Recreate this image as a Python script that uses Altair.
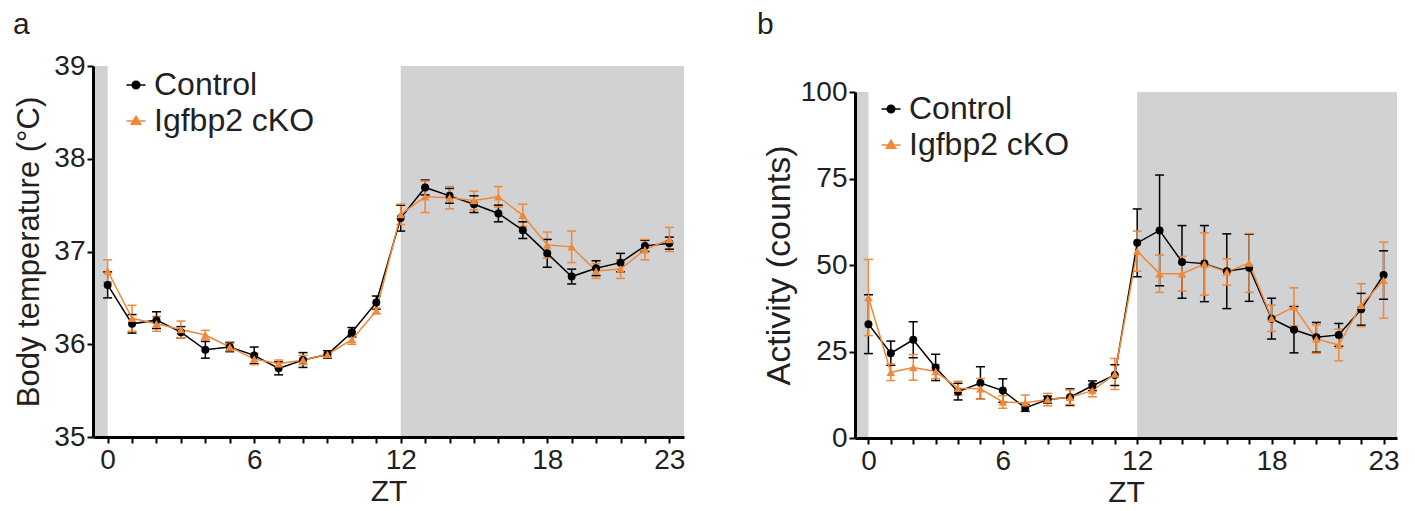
import altair as alt
import pandas as pd
import math

# ---------------- data ----------------
zt = list(range(24))
groups = ["Control", "Igfbp2 cKO"]

temp_ctrl = [36.64, 36.22, 36.26, 36.13, 35.94, 35.97, 35.88, 35.74, 35.83, 35.89, 36.13, 36.45,
             37.36, 37.69, 37.60, 37.51, 37.41, 37.23, 36.98, 36.73, 36.82, 36.88, 37.06, 37.09]
temp_ctrl_err = [0.14, 0.10, 0.09, 0.06, 0.09, 0.05, 0.09, 0.07, 0.08, 0.04, 0.05, 0.07,
                 0.14, 0.08, 0.08, 0.09, 0.09, 0.09, 0.15, 0.08, 0.08, 0.10, 0.06, 0.065]
temp_ko = [36.79, 36.28, 36.22, 36.16, 36.10, 35.97, 35.84, 35.79, 35.83, 35.89, 36.05, 36.36,
           37.40, 37.59, 37.58, 37.55, 37.59, 37.39, 37.07, 37.05, 36.79, 36.81, 37.02, 37.13]
temp_ko_err = [0.12, 0.14, 0.08, 0.09, 0.05, 0.04, 0.06, 0.04, 0.05, 0.03, 0.05, 0.03,
               0.11, 0.17, 0.12, 0.10, 0.11, 0.12, 0.14, 0.17, 0.08, 0.10, 0.11, 0.13]

act_ctrl = [32.9, 24.5, 28.4, 20.4, 13.4, 15.9, 13.7, 8.7, 11.1, 11.8, 15.1, 18.2,
            56.4, 60.0, 50.9, 50.4, 48.2, 49.2, 34.5, 31.3, 29.1, 29.8, 37.2, 47.1]
act_ctrl_err = [8.5, 3.5, 5.2, 3.8, 2.4, 4.7, 3.4, 1.0, 1.0, 2.4, 1.4, 3.0,
                9.8, 16.0, 10.5, 11.0, 10.8, 9.7, 5.9, 6.7, 4.3, 3.3, 4.6, 7.0]
act_ko = [40.6, 19.0, 20.4, 19.2, 14.4, 14.2, 10.4, 10.2, 11.1, 11.8, 13.7, 18.5,
          54.0, 47.5, 47.5, 50.3, 48.0, 50.6, 34.6, 37.9, 28.6, 26.9, 38.4, 45.6]
act_ko_err = [11.0, 2.4, 3.7, 2.0, 2.0, 3.0, 1.8, 2.2, 1.8, 2.1, 1.8, 4.5,
              5.8, 5.4, 5.0, 9.0, 3.8, 8.5, 3.8, 5.5, 4.1, 4.6, 6.2, 11.0]

# dark phases (ZT)
dark_start = [-0.6, 12]
dark_end = [0, 23.6]
x_domain = [-0.6, 23.6]
x_label_values = [0, 6, 12, 18, 23]
temp_ticks = [35, 36, 37, 38, 39]
act_ticks = [0, 25, 50, 75, 100]

# ---------------- style ----------------
COLORS = ["#000000", "#F0883A"]
SHADE = "#D1D2D4"
TEXT = "#231f20"
FONT = "Liberation Sans, Arial, sans-serif"
NARROW = "Liberation Sans Narrow, Arial Narrow, Liberation Sans, sans-serif"

# legend glyphs: short line with a marker on it (unit square -1..1)
_r = 0.4
_circle = "M" + "L".join(
    f"{_r * math.cos(2 * math.pi * k / 16):.3f},{_r * math.sin(2 * math.pi * k / 16):.3f}"
    for k in range(16)) + "Z"
legend_paths = [
    "M-1,0L1,0" + _circle,
    "M-1,0L1,0M0,-0.5L0.5,0.35L-0.5,0.35Z",
]

IND = dict(color="independent", fill="independent", stroke="independent", shape="independent")


def long_df(ctrl, ctrl_err, ko, ko_err):
    rows = []
    for g, vals, errs in [(groups[0], ctrl, ctrl_err), (groups[1], ko, ko_err)]:
        for t, v, e in zip(zt, vals, errs):
            rows.append({"zt": t, "group": g, "mean": v, "lo": v - e, "hi": v + e})
    return pd.DataFrame(rows)


def panel(df, y_title, y_domain, y_ticks, width, height, leg_x, leg_y, ytitle_size,
          ytitle_pad):
    shade_df = pd.DataFrame({"start": dark_start, "end": dark_end,
                             "bottom": [y_domain[0]] * 2, "top": [y_domain[1]] * 2})
    label_test = "[" + ",".join(str(v) for v in x_label_values) + "]"
    xscale = alt.Scale(domain=x_domain, nice=False, zero=False)
    xaxis = alt.Axis(title="ZT", values=zt, labelFlush=False, ticks=True, zindex=1,
                     tickColor="black", tickWidth=2, tickSize=6,
                     labelExpr=f"indexof({label_test}, datum.value) >= 0 ? datum.label : ''",
                     labelFont=NARROW, titleFont=NARROW, labelPadding=3, titlePadding=2,
                     titleFontSize=30)
    yscale = alt.Scale(domain=y_domain, nice=False, zero=False)
    yaxis = alt.Axis(title=y_title, values=y_ticks, titleFontSize=ytitle_size, zindex=1,
                     titlePadding=ytitle_pad, labelPadding=2)
    # colour scale: domain taken from the data (sorted: Control, Igfbp2 cKO)
    color = alt.Color("group:N", scale=alt.Scale(range=COLORS), legend=None)
    x = alt.X("zt:Q", scale=xscale, axis=xaxis)
    ymean = alt.Y("mean:Q", scale=yscale, axis=yaxis)

    shade = alt.Chart(shade_df).mark_rect(color=SHADE).encode(
        x=alt.X("start:Q", scale=xscale, axis=xaxis),
        x2="end:Q",
        y=alt.Y("bottom:Q", scale=yscale, axis=yaxis),
        y2="top:Q",
    )
    base = alt.Chart(df)
    rules = base.mark_rule(strokeWidth=1.5).encode(
        x=x, y=alt.Y("lo:Q", scale=yscale, axis=yaxis), y2="hi:Q", color=color)
    tick_lo = base.mark_tick(orient="horizontal", size=9, thickness=1.5, opacity=1).encode(
        x=x, y=alt.Y("lo:Q", scale=yscale, axis=yaxis), color=color)
    tick_hi = base.mark_tick(orient="horizontal", size=9, thickness=1.5, opacity=1).encode(
        x=x, y=alt.Y("hi:Q", scale=yscale, axis=yaxis), color=color)
    line = base.mark_line(strokeWidth=1.5).encode(
        x=x, y=ymean, color=color, detail="group:N")
    pts_c = base.transform_filter(alt.datum.group == groups[0]).mark_point(
        filled=True, shape="circle", size=64, opacity=1).encode(x=x, y=ymean, color=color)
    pts_k = base.transform_filter(alt.datum.group == groups[1]).mark_point(
        filled=True, shape="triangle-up", size=75, opacity=1).encode(x=x, y=ymean, color=color)

    leg = alt.Legend(title=None, orient="none", legendX=leg_x, legendY=leg_y,
                     labelFontSize=32, labelFont=FONT, labelColor=TEXT, labelLimit=500,
                     symbolSize=361, symbolStrokeWidth=1.5, symbolOpacity=1,
                     labelOffset=2, rowPadding=4, padding=0)
    # invisible layer that only carries the legend (line + marker glyphs)
    key = base.mark_point(filled=True, opacity=0).encode(
        x=x, y=ymean,
        shape=alt.Shape("group:N", scale=alt.Scale(domain=groups, range=legend_paths), legend=leg),
        fill=alt.Fill("group:N", scale=alt.Scale(domain=groups, range=COLORS), legend=leg),
        stroke=alt.Stroke("group:N", scale=alt.Scale(domain=groups, range=COLORS), legend=leg),
    )

    return alt.layer(shade, rules, tick_lo, tick_hi, line, pts_c, pts_k, key).properties(
        width=width, height=height)


def spacer(label, dx, width, height):
    return alt.Chart(pd.DataFrame({"v": [0]})).mark_point(opacity=0).properties(
        width=width, height=height,
        title=alt.TitleParams(text=label, anchor="start", frame="group", fontSize=30,
                              font=FONT, fontWeight="normal", color=TEXT, offset=0, dx=dx),
    )


temp_df = long_df(temp_ctrl, temp_ctrl_err, temp_ko, temp_ko_err)
act_df = long_df(act_ctrl, act_ctrl_err, act_ko, act_ko_err)

pa = panel(temp_df, "Body temperature (°C)", [35, 39], temp_ticks, 591, 371, 27, 3, 31, 8)
pb = panel(act_df, "Activity (counts)", [0, 100], act_ticks, 542, 346, 20, 1, 34, 4)

col_a = alt.vconcat(spacer("a", -80, 591, 12), pa, spacing=0).resolve_scale(**IND)
col_b = alt.vconcat(spacer("b", -98, 542, 38), pb, spacing=0).resolve_scale(**IND)

chart = alt.hconcat(col_a, col_b, spacing=72).resolve_scale(**IND).properties(
    padding={"left": 5, "top": 2, "right": 5, "bottom": 0}
).configure_view(stroke=None).configure_axis(
    grid=False, domainColor="black", domainWidth=3, tickColor="black", tickWidth=2,
    tickSize=6, labelFontSize=28, labelFont=FONT, labelColor=TEXT,
    titleFont=FONT, titleFontWeight="normal", titleColor=TEXT,
)

chart.save("out.html", embed_options={"renderer": "svg", "actions": False})
